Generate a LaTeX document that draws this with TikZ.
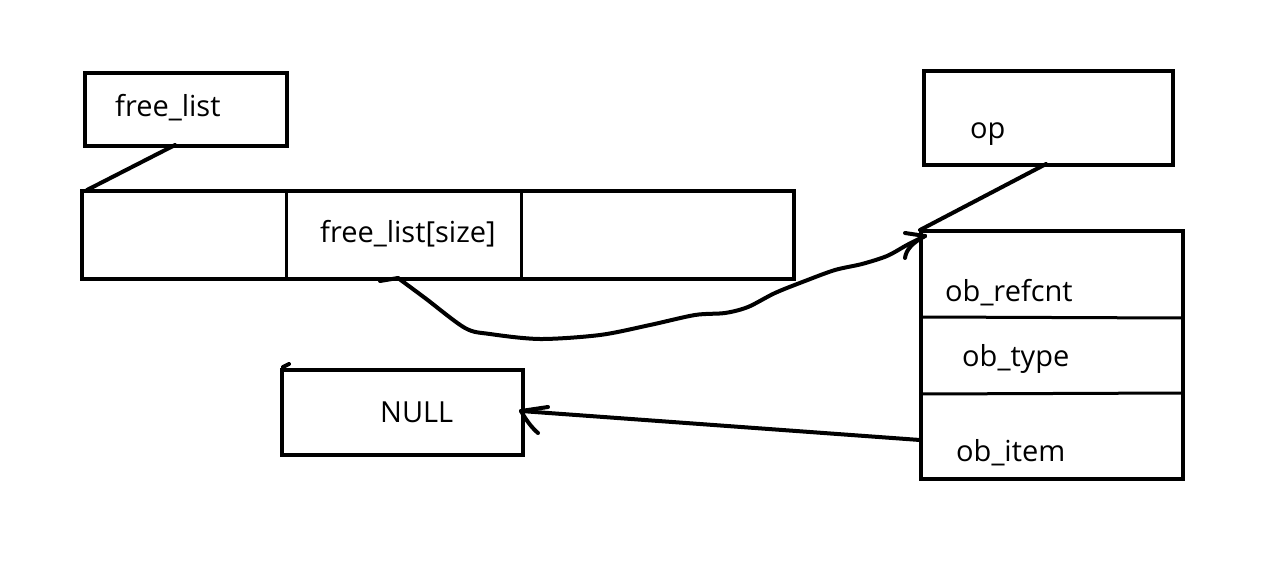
\documentclass[tikz,border=0pt]{standalone}
\usepackage{fontspec}
\setmainfont{Open Sans}
\begin{document}
\begin{tikzpicture}[x=1pt,y=-1pt,
  box/.style={draw=black,line width=4pt,inner sep=0pt,outer sep=0pt,anchor=north west},
  lbl/.style={anchor=west,inner sep=0pt,font=\fontsize{29}{34}\selectfont},
  wire/.style={draw=black,line width=4pt,line cap=round,line join=round},
  thin/.style={draw=black,line width=3pt}]
\useasboundingbox[fill=white] (0,0) rectangle (1284,588);
% boxes
\node[box,minimum width=202pt,minimum height=73pt] (fl) at (85,73) {};
\node[box,minimum width=712pt,minimum height=88pt] (arr) at (82,191) {};
\node[box,minimum width=249pt,minimum height=94pt] (op) at (924,71) {};
\node[box,minimum width=262pt,minimum height=248pt] (obj) at (921,231) {};
\node[box,minimum width=241pt,minimum height=85pt] (null) at (282,370) {};
% dividers
\draw[thin] (286,191) -- (286,279);
\draw[thin] (521,191) -- (521,279);
\draw[thin] (921,317) -- (1183,318);
\draw[thin] (921,394) -- (1183,393);
% labels
\node[lbl] (t1) at (115,108) {free\_list};
\node[lbl] (t2) at (320,234) {free\_list[size]};
\node[lbl] (t3) at (970,134) {op};
\node[lbl] (t4) at (945,293) {ob\_refcnt};
\node[lbl] (t5) at (962,359) {ob\_type};
\node[lbl] (t6) at (956,453) {ob\_item};
\node[lbl] (t7) at (380,412) {NULL};
% coordinates
\coordinate (flb) at (175,145);
\coordinate (arrtl) at (87,190);
\coordinate (opb) at (1046,164);
\coordinate (objtl) at (920,230);
\coordinate (cellb) at (398,278);
\coordinate (tip1) at (925,236);
\coordinate (itemL) at (920,440);
\coordinate (tip2) at (521,411);
% connectors
\draw[wire] (flb) -- (arrtl);
\draw[wire] (opb) -- (objtl);
\draw[wire] (380,281) -- (cellb);
\draw[wire] plot[smooth,tension=0.5] coordinates {(cellb) (425,298) (465,328) (490,334) (540,339) (600,335) (650,325) (695,315) (725,313) (748,307) (775,293) (805,281) (835,270) (862,264) (887,256) (907,245) (tip1)};
\draw[wire] (905,233) -- (tip1);
\draw[wire] (905,258) .. controls (906,250) and (912,243) .. (tip1);
\draw[wire] (itemL) -- (tip2);
\draw[wire] (548,407) -- (tip2) .. controls (526,420) and (532,428) .. (538,433);
\draw[wire] (283,367) -- (289,364);
\end{tikzpicture}
\end{document}
